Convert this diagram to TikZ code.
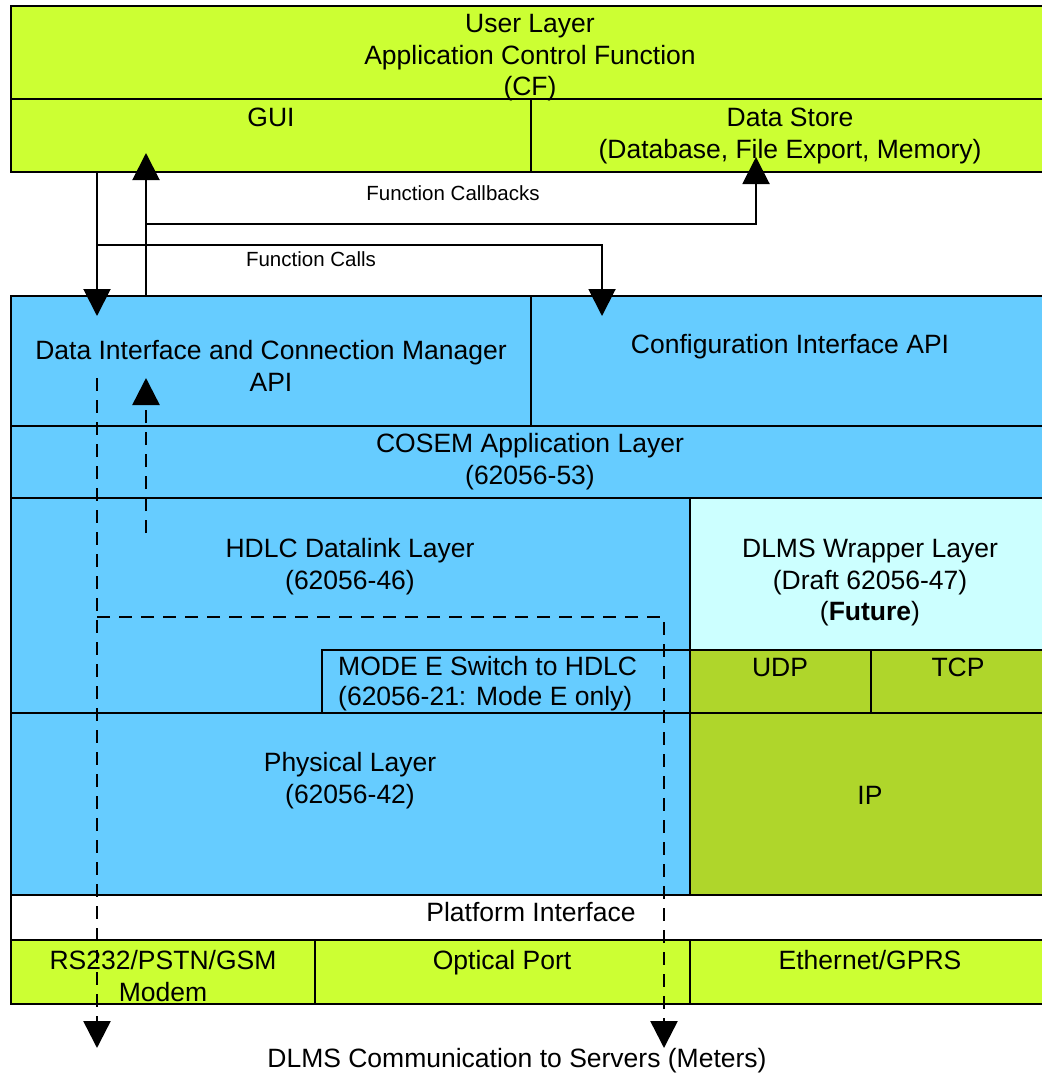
\documentclass[tikz,border=0pt]{standalone}
\usepackage{fontspec}
\setmainfont{Liberation Sans}
\usetikzlibrary{arrows.meta}
\definecolor{limeC}{RGB}{204,255,51}
\definecolor{blueC}{RGB}{102,204,255}
\definecolor{cyanC}{RGB}{204,255,255}
\definecolor{oliveC}{RGB}{175,214,43}
\tikzset{
  box/.style={draw=black, line width=2pt, rectangle, inner sep=0pt, outer sep=0pt, anchor=north west},
  big/.style={font=\fontsize{26.5}{31.5}\selectfont, inner sep=0pt, align=center, anchor=north},
  small/.style={font=\fontsize{20.5}{24}\selectfont, inner sep=0pt, align=center, anchor=north},
  arr/.style={draw=black, line width=2pt, -{Triangle[width=27pt,length=27pt]}},
  plain/.style={draw=black, line width=2pt},
  darr/.style={draw=black, line width=2.5pt, dash pattern=on 13pt off 9pt, -{Triangle[width=27pt,length=27pt]}},
  dplain/.style={draw=black, line width=2.5pt, dash pattern=on 13pt off 9pt}
}
\begin{document}
\begin{tikzpicture}[x=1pt,y=-1pt]
\useasboundingbox (0,0) rectangle (1041,1073);
\fill[white] (0,0) rectangle (1041,1073);
% boxes
\node[box, fill=limeC, minimum width=1037pt, minimum height=93pt] (user) at (11,6) {};
\node[box, fill=limeC, minimum width=520pt, minimum height=73pt] (gui) at (11,99) {};
\node[box, fill=limeC, minimum width=517pt, minimum height=73pt] (store) at (531,99) {};
\node[box, fill=blueC, minimum width=520pt, minimum height=130pt] (diapi) at (11,296) {};
\node[box, fill=blueC, minimum width=517pt, minimum height=130pt] (config) at (531,296) {};
\node[box, fill=blueC, minimum width=1037pt, minimum height=72pt] (cosem) at (11,426) {};
\node[box, fill=blueC, minimum width=679pt, minimum height=215pt] (hdlc) at (11,498) {};
\node[box, fill=cyanC, minimum width=358pt, minimum height=152pt] (wrapper) at (690,498) {};
\node[box, fill=blueC, minimum width=368pt, minimum height=63pt] (modee) at (322,650) {};
\node[box, fill=oliveC, minimum width=181pt, minimum height=63pt] (udp) at (690,650) {};
\node[box, fill=oliveC, minimum width=177pt, minimum height=63pt] (tcp) at (871,650) {};
\node[box, fill=blueC, minimum width=679pt, minimum height=182pt] (phys) at (11,713) {};
\node[box, fill=oliveC, minimum width=358pt, minimum height=182pt] (ip) at (690,713) {};
\node[box, fill=white, minimum width=1037pt, minimum height=45pt] (platform) at (11,895) {};
\node[box, fill=limeC, minimum width=304pt, minimum height=64pt] (rs) at (11,940) {};
\node[box, fill=limeC, minimum width=375pt, minimum height=64pt] (optical) at (315,940) {};
\node[box, fill=limeC, minimum width=358pt, minimum height=64pt] (eth) at (690,940) {};
% texts
\node[big] (tUser) at (530,10.5) {\strut User Layer\\\strut Application Control Function\\\strut (CF)};
\node[big] (tGui) at (271,104.5) {\strut GUI};
\node[big] (tStore) at (790,104.5) {\strut Data Store\\\strut (Database, File Export, Memory)};
\node[small] (tCallbacks) at (453,183.5) {\strut Function Callbacks};
\node[small] (tCalls) at (311,249.5) {\strut Function Calls};
\node[big] (tDiapi) at (271,337.5) {\strut Data Interface and Connection Manager\\\strut API};
\node[big] (tConfig) at (790,331.5) {\strut Configuration Interface API};
\node[big] (tCosem) at (530,430.5) {\strut COSEM Application Layer\\\strut (62056-53)};
\node[big] (tHdlc) at (350,535.5) {\strut HDLC Datalink Layer\\\strut (62056-46)};
\node[big] (tWrapper) at (870,535.5) {\strut DLMS Wrapper Layer\\\strut (Draft 62056-47)\\\strut (\textbf{Future})};
\node[big, anchor=north west, align=left, font=\fontsize{26.5}{30}\selectfont] (tModee) at (338,654.5) {\strut MODE E Switch to HDLC\\\strut (62056-21: Mode E only)};
\node[big] (tUdp) at (780,654.5) {\strut UDP};
\node[big] (tTcp) at (958,654.5) {\strut TCP};
\node[big] (tPhys) at (350,749.5) {\strut Physical Layer\\\strut (62056-42)};
\node[big] (tIp) at (870,782.5) {\strut IP};
\node[big] (tPlatform) at (531,899.5) {\strut Platform Interface};
\node[big] (tRs) at (163,947.5) {\strut RS232/PSTN/GSM\\\strut Modem};
\node[big] (tOptical) at (502,947.5) {\strut Optical Port};
\node[big] (tEth) at (870,947.5) {\strut Ethernet/GPRS};
\node[big] (tComm) at (517,1045.5) {\strut DLMS Communication to Servers (Meters)};
% connector coordinates
\coordinate (callA) at (97,172);
\coordinate (callB) at (97,245);
\coordinate (callEnd1) at (97,316);
\coordinate (callC) at (602,245);
\coordinate (callEnd2) at (602,316);
\coordinate (cbA) at (146,296);
\coordinate (cbB) at (146,224);
\coordinate (cbEnd1) at (146,153);
\coordinate (cbC) at (756,224);
\coordinate (cbEnd2) at (756,157);
\coordinate (dDownA) at (97,378);
\coordinate (dDownB) at (97,617);
\coordinate (dDownEnd1) at (97,1048);
\coordinate (dDownC) at (664,617);
\coordinate (dDownEnd2) at (664,1048);
\coordinate (dUpA) at (146,533);
\coordinate (dUpEnd) at (146,378);
% connectors
\draw[arr] (callA) -- (callEnd1);
\draw[arr] (callB) -- (callC) -- (callEnd2);
\draw[arr] (cbA) -- (cbEnd1);
\draw[arr] (cbB) -- (cbC) -- (cbEnd2);
\draw[darr] (dDownA) -- (dDownEnd1);
\draw[darr] (dDownB) -- (dDownC) -- (dDownEnd2);
\draw[darr] (dUpA) -- (dUpEnd);
\end{tikzpicture}
\end{document}
